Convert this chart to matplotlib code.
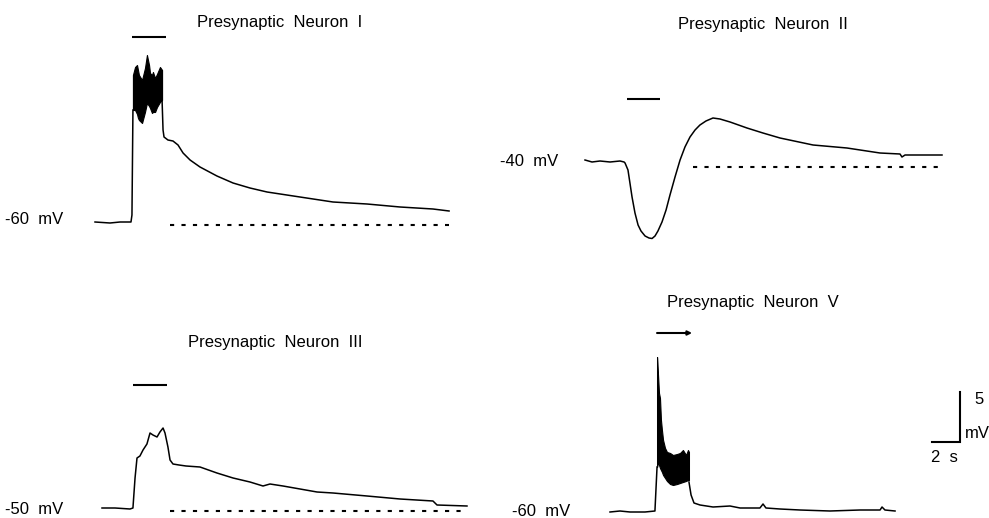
import matplotlib.pyplot as plt
import numpy as np

plt.rcParams['font.family'] = ['Liberation Sans', 'DejaVu Sans']

W, H = 989, 518
PX_S = 14.0   # pixels per second
PX_MV = 10.0  # pixels per mV

# ---- Presynaptic neuron I (rest -60 mV) ----
n1_t_pre = [0.0, 1.07, 1.79, 2.57, 2.64, 2.71]
n1_v_pre = [-60.0, -60.1, -60.0, -60.0, -59.3, -48.8]
n1_t_burst = [2.71, 2.86, 3.0, 3.07, 3.14, 3.36, 3.57, 3.71, 3.86, 3.93, 4.07, 4.14, 4.29, 4.43, 4.64, 4.79]
n1_v_top = [-45.3, -44.5, -44.3, -44.8, -45.3, -45.8, -44.6, -43.3, -44.3, -45.1, -45.3, -45.0, -45.6, -45.2, -44.5, -44.8]
n1_v_bot = [-48.8, -48.8, -49.2, -49.6, -49.8, -50.1, -49.0, -48.1, -48.4, -48.6, -49.1, -49.0, -49.0, -48.5, -48.0, -47.8]
n1_t_post = [4.79, 4.86, 4.93, 5.21, 5.57, 5.93, 6.29, 6.79, 7.5, 8.71, 9.86, 11.07, 12.29, 14.64, 17.0, 19.43, 21.79, 24.14, 25.29]
n1_v_post = [-47.8, -50.8, -51.5, -51.8, -51.9, -52.3, -53.1, -53.8, -54.5, -55.4, -56.1, -56.6, -57.0, -57.5, -58.0, -58.2, -58.5, -58.7, -58.9]
n1_stim = (2.64, 5.07, -41.5)
n1_rest = (5.36, 25.29, -60.3)

# ---- Presynaptic neuron II (rest -40 mV) ----
n2_t = [0.0, 0.5, 1.07, 1.79, 2.5, 2.79, 2.86, 3.07, 3.21, 3.36, 3.57, 3.79, 4.0, 4.29, 4.57, 4.79,
        5.0, 5.21, 5.5, 5.79, 6.07, 6.43, 6.79, 7.14, 7.5, 7.86, 8.21, 8.64, 9.14, 9.64, 10.36,
        11.57, 12.71, 13.93, 16.29, 18.71, 21.07, 22.5, 22.64, 22.86, 23.43, 25.5]
n2_v = [-39.8, -40.0, -39.9, -40.0, -39.9, -40.0, -40.1, -40.8, -42.1, -43.5, -45.1, -46.3, -46.9, -47.4, -47.6, -47.65,
        -47.4, -46.9, -46.0, -44.8, -43.3, -41.5, -39.8, -38.5, -37.5, -36.8, -36.3, -35.9, -35.6, -35.7, -36.0,
        -36.6, -37.1, -37.6, -38.3, -38.6, -39.1, -39.2, -39.5, -39.3, -39.3, -39.3]
n2_stim = (3.0, 5.36, -33.7)
n2_rest = (7.71, 25.5, -40.5)

# ---- Presynaptic neuron III (rest -50 mV) ----
n3_t = [0.0, 0.93, 2.0, 2.21, 2.36, 2.5, 2.71, 2.93, 3.21, 3.43, 3.64, 3.93, 4.14, 4.36, 4.5, 4.71,
        4.86, 5.07, 5.5, 6.0, 7.0, 8.21, 9.36, 10.57, 11.5, 12.0, 12.93, 15.36, 16.5, 18.93, 21.29, 23.64, 23.93, 26.07]
n3_v = [-50.0, -50.0, -50.1, -50.0, -47.0, -45.0, -44.8, -44.2, -43.6, -42.5, -42.7, -42.9, -42.4, -42.0, -42.5, -43.9,
        -45.2, -45.6, -45.7, -45.8, -45.9, -46.5, -47.0, -47.4, -47.8, -47.6, -47.8, -48.4, -48.5, -48.8, -49.1, -49.3, -49.7, -49.8]
n3_stim = (2.21, 4.64, -37.7)
n3_rest = (4.86, 26.07, -50.3)

# ---- Presynaptic neuron V (rest -60 mV) ----
n5_t_pre = [0.0, 0.71, 1.43, 2.5, 3.21, 3.36]
n5_v_pre = [-60.0, -59.9, -60.0, -60.0, -59.9, -55.5]
n5_t_burst = [3.36, 3.43, 3.5, 3.57, 3.64, 3.71, 3.79, 3.93, 4.07, 4.29, 4.5, 4.79, 5.0, 5.21, 5.43, 5.57, 5.64]
n5_v_top = [-44.5, -46.3, -48.1, -48.6, -50.8, -51.8, -52.8, -53.6, -54.0, -54.1, -54.3, -54.2, -54.1, -53.8, -54.3, -53.8, -54.0]
n5_v_bot = [-55.5, -55.0, -55.3, -55.6, -55.8, -56.0, -56.3, -56.6, -56.9, -57.2, -57.3, -57.2, -57.1, -57.0, -56.9, -56.8, -56.8]
n5_t_post = [5.64, 5.79, 6.0, 6.43, 7.36, 8.57, 9.29, 10.71, 10.93, 11.14, 12.14, 13.57, 15.71, 17.86, 19.29, 19.43, 19.64, 20.36]
n5_v_post = [-57.0, -58.3, -59.1, -59.3, -59.5, -59.4, -59.6, -59.6, -59.2, -59.6, -59.7, -59.8, -59.9, -59.8, -59.8, -59.5, -59.8, -59.9]
n5_stim = (3.36, 5.86, -42.1)

scale_s = 2.0
scale_mv = 5.0

LW = 1.1
DASH = (0, (2.0, 3.5))


def make_panel(fig, box, origin, v_rest):
    # box/origin in pixels from the top-left corner; origin is where (t=0, v_rest) sits
    x0, y0, w, h = box
    ox, oy = origin
    ax = fig.add_axes([x0 / W, 1 - (y0 + h) / H, w / W, h / H])
    ax.set_xlim((x0 - ox) / PX_S, (x0 + w - ox) / PX_S)
    ax.set_ylim(v_rest - (y0 + h - oy) / PX_MV, v_rest + (oy - y0) / PX_MV)
    ax.axis('off')
    return ax


def draw_common(ax, stim, rest=None):
    ax.plot([stim[0], stim[1]], [stim[2], stim[2]], color='k', lw=1.5, solid_capstyle='butt')
    if rest is not None:
        ax.plot([rest[0], rest[1]], [rest[2], rest[2]], color='k', lw=1.5, linestyle=DASH)


fig = plt.figure(figsize=(W / 100, H / 100), dpi=100)

# neuron I
ax1 = make_panel(fig, (0, 0, 480, 260), (95, 222), -60)
ax1.plot(n1_t_pre, n1_v_pre, color='k', lw=LW)
ax1.fill_between(n1_t_burst, n1_v_bot, n1_v_top, color='k', lw=0.8)
ax1.plot(n1_t_post, n1_v_post, color='k', lw=LW)
draw_common(ax1, n1_stim, n1_rest)
ax1.text(13.2, -40.0, 'Presynaptic  Neuron  I', ha='center', va='center', fontsize=12)
ax1.text(-2.29, -59.8, '-60  mV', ha='right', va='center', fontsize=12, clip_on=False)

# neuron II
ax2 = make_panel(fig, (480, 0, 509, 260), (585, 162), -40)
ax2.plot(n2_t, n2_v, color='k', lw=LW)
draw_common(ax2, n2_stim, n2_rest)
ax2.text(12.7, -26.3, 'Presynaptic  Neuron  II', ha='center', va='center', fontsize=12)
ax2.text(-1.93, -40.0, '-40  mV', ha='right', va='center', fontsize=12)

# neuron III
ax3 = make_panel(fig, (0, 260, 480, 258), (102, 508), -50)
ax3.plot(n3_t, n3_v, color='k', lw=LW)
draw_common(ax3, n3_stim, n3_rest)
ax3.text(12.4, -33.4, 'Presynaptic  Neuron  III', ha='center', va='center', fontsize=12)
ax3.text(-2.79, -50.2, '-50  mV', ha='right', va='center', fontsize=12, clip_on=False)

# neuron V
ax5 = make_panel(fig, (480, 260, 509, 258), (610, 512), -60)
ax5.plot(n5_t_pre, n5_v_pre, color='k', lw=LW)
ax5.fill_between(n5_t_burst, n5_v_bot, n5_v_top, color='k', lw=0.8)
ax5.plot(n5_t_post, n5_v_post, color='k', lw=LW)
ax5.annotate('', xy=(n5_stim[1], n5_stim[2]), xytext=(n5_stim[0], n5_stim[2]),
             arrowprops=dict(arrowstyle='-|>', lw=1.5, color='k', mutation_scale=6, shrinkA=0, shrinkB=0))
ax5.text(10.2, -39.0, 'Presynaptic  Neuron  V', ha='center', va='center', fontsize=12)
ax5.text(-2.86, -59.9, '-60  mV', ha='right', va='center', fontsize=12, clip_on=False)

# scale bar
sx, sy = 25.0, -53.0
ax5.plot([sx - scale_s, sx, sx], [sy, sy, sy + scale_mv], color='k', lw=1.5, solid_joinstyle='miter')
ax5.text(sx + 1.35, sy + scale_mv - 0.8, '5', ha='center', va='center', fontsize=12)
ax5.text(sx + 0.35, sy + 0.9, 'mV', ha='left', va='center', fontsize=12)
ax5.text(sx - 1.1, sy - 1.5, '2  s', ha='center', va='center', fontsize=12)

fig.savefig('out.png', dpi=100)
